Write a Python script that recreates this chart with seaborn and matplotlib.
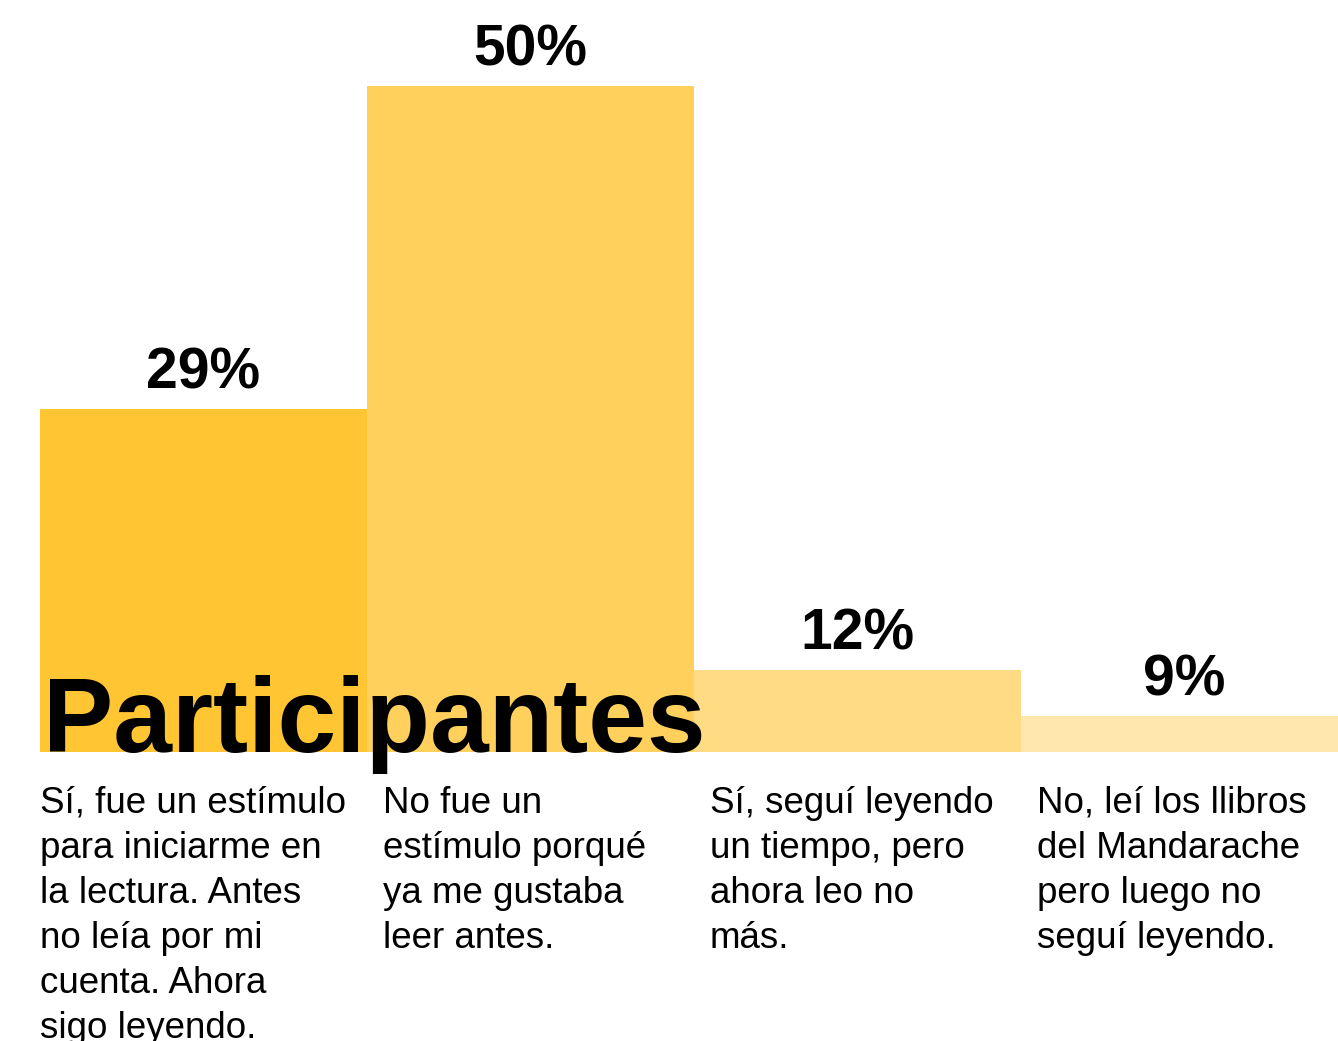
import matplotlib
matplotlib.use("Agg")
import matplotlib.pyplot as plt
import seaborn as sns
import pandas as pd

# respuestas de la encuesta
categories = [
    "Sí, fue un estímulo\npara iniciarme en\nla lectura. Antes\nno leía por mi\ncuenta. Ahora\nsigo leyendo.",
    "No fue un\nestímulo porqué\nya me gustaba\nleer antes.",
    "Sí, seguí leyendo\nun tiempo, pero\nahora leo no\nmás.",
    "No, leí los llibros\ndel Mandarache\npero luego no\nseguí leyendo.",
]
values = [29, 50, 12, 9]
value_labels = ["29%", "50%", "12%", "9%"]
alphas = [1.0, 0.8, 0.6, 0.4]
title = "Participantes"

base = 6.64  # las barras no empiezan en 0
df = pd.DataFrame({"cat": categories, "h": [v - base for v in values]})

plt.rcParams['font.family'] = ['Liberation Sans', 'DejaVu Sans']

fig = plt.figure(figsize=(13.38, 10.41), dpi=100)
ax = fig.add_axes([0, 0, 1, 1])

sns.barplot(data=df, x="cat", y="h", bottom=base, color="#FFC533",
            width=1, linewidth=0, saturation=1, ax=ax)
for p, a in zip(ax.patches, alphas):
    p.set_alpha(a)

for i, (v, lab) in enumerate(zip(values, value_labels)):
    ax.annotate(lab, (i, v), xytext=(0, 14.5), textcoords="offset points",
                ha="center", va="baseline", fontsize=41, fontweight="bold")

for i, cat in enumerate(categories):
    pad = 0 if i == 0 else 0.049
    ax.text(i - 0.5 + pad, base - 2.2, cat, ha="left", va="top",
            fontsize=26.5, linespacing=1.37)

ax.text(-0.5 + 0.01, base, title, ha="left", va="baseline",
        fontsize=76, fontweight="bold")

ax.set_xlim(-0.5 - 40 / 327, -0.5 + 1298 / 327)
ax.set_ylim(-12.18, 55.6)
ax.axis("off")

plt.savefig("out.png", dpi=100)
